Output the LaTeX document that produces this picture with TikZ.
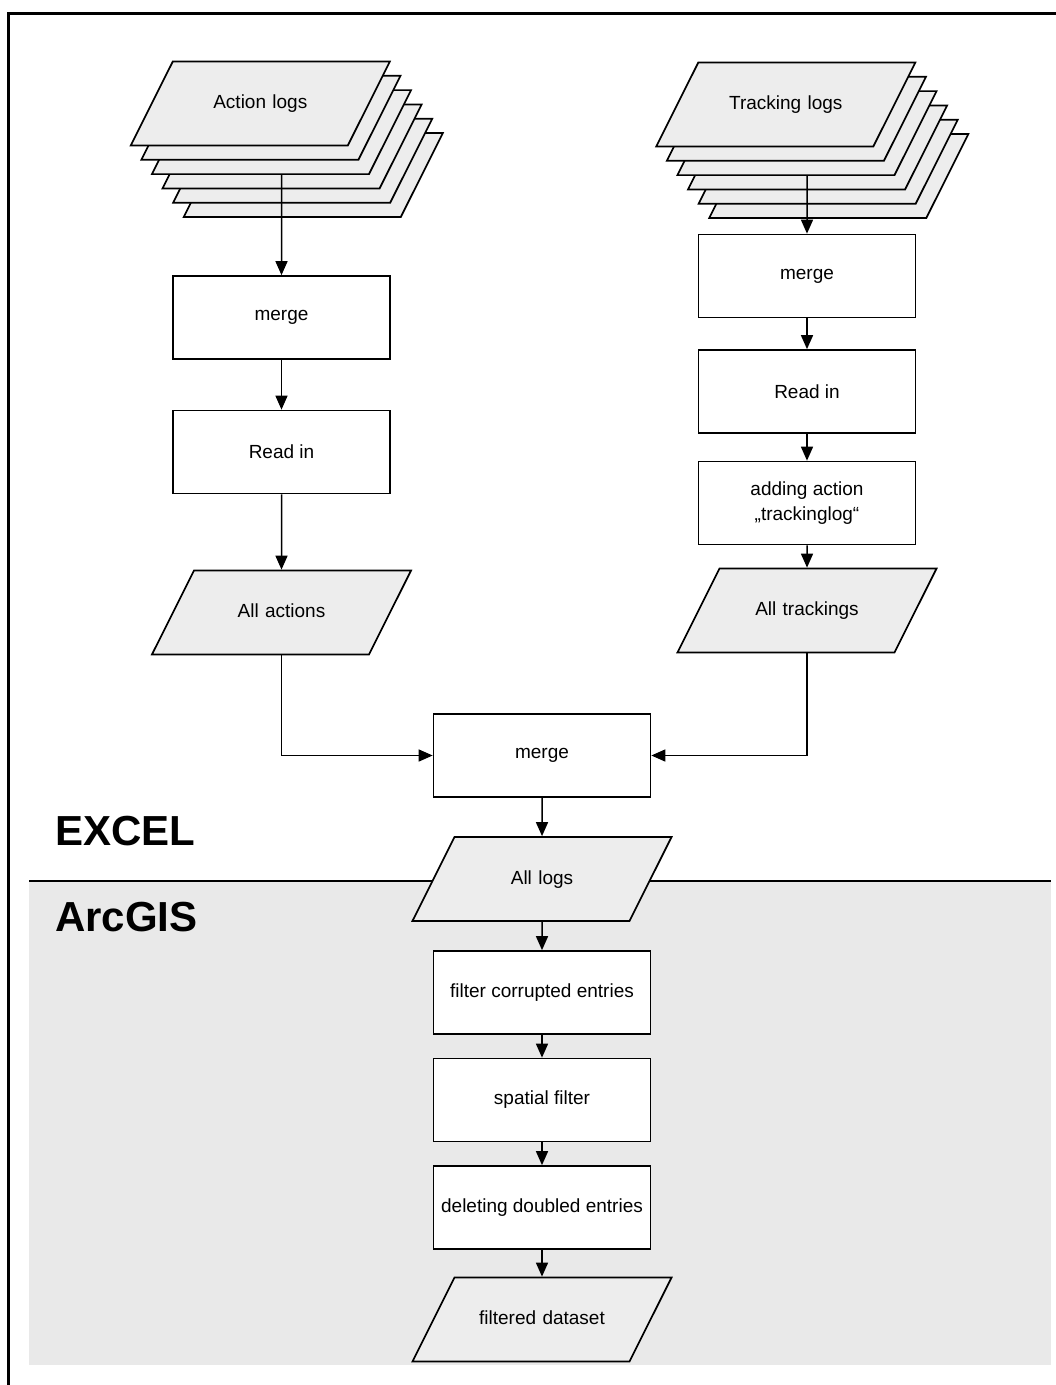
\documentclass[tikz,border=0pt]{standalone}
\usepackage{fontspec}
\setmainfont{Liberation Sans}
\usetikzlibrary{shapes.geometric,arrows.meta}

\begin{document}
\begin{tikzpicture}[
        x=1pt, y=-1pt,
        every node/.style={font=\fontsize{19}{25}\selectfont, text centered},
        stepbox/.style={draw, rectangle, fill=white, line width=1.7pt, minimum width=217pt, minimum height=83pt},
        datashape/.style={draw, trapezium, trapezium left angle=63.4, trapezium right angle=116.6,
            inner sep=0pt, text width=175pt, text height=47pt, text depth=37pt, align=center,
            fill=gray!14, line width=1.7pt},
        lane/.style={font=\fontsize{42}{48}\selectfont\bfseries, anchor=base west, inner sep=0pt},
        flow/.style={line width=1.5pt, -{Triangle[length=14pt,width=12pt]}}
    ]
    \useasboundingbox (0,0) rectangle (1056,1385);

    % ArcGIS part of the page
    \fill[gray!17] (29,881) rectangle (1051,1365);
    \draw[line width=2.5pt] (29,881) -- (1051,881);
    \draw[line width=3pt] (8.8,1385) -- (8.8,13) -- (1056,13);

    \node[lane] (excel) at (55,845) {EXCEL};
    \node[lane] (arcgis) at (55,931) {ArcGIS};

    % stacked log files, back layers first
    \foreach \i in {5,...,1} {
        \node[datashape] (actlogs\i) at (260.3+\i*10.6, 103.5+\i*14.3) {};
        \node[datashape] (trklogs\i) at (785.8+\i*10.6, 104.5+\i*14.3) {};
    }
    \node[datashape] (actlogs) at (260.3,103.5) {Action logs};
    \node[datashape] (trklogs) at (785.8,104.5) {Tracking logs};

    % left column
    \node[stepbox] (actmerge) at (281.5,317.5) {merge};
    \node[stepbox] (actread) at (281.5,452) {Read in};
    \node[datashape] (allactions) at (281.5,612.5) {All actions};

    % right column
    \node[stepbox] (trkmerge) at (807,276) {merge};
    \node[stepbox] (trkread) at (807,391.5) {Read in};
    \node[stepbox, align=center] (trkadd) at (807,503) {adding action\\„trackinglog“};
    \node[datashape] (alltrackings) at (807,610.5) {All trackings};

    % common part
    \node[stepbox] (merge) at (542,755.5) {merge};
    \node[datashape] (alllogs) at (542,879) {All logs};
    \node[stepbox] (filtercorr) at (542,992.5) {filter corrupted entries};
    \node[stepbox] (spatial) at (542,1100) {spatial filter};
    \node[stepbox] (deldoubled) at (542,1207.5) {deleting doubled entries};
    \node[datashape] (filtered) at (542,1319.5) {filtered dataset};

    \draw[flow] (actlogs2.south) -- (actmerge.north);
    \draw[flow] (actmerge) -- (actread);
    \draw[flow] (actread) -- (allactions);
    \draw[flow] (trklogs2.south) -- (trkmerge.north);
    \draw[flow] (trkmerge) -- (trkread);
    \draw[flow] (trkread) -- (trkadd);
    \draw[flow] (trkadd) -- (alltrackings);
    \draw[flow] (allactions.south) |- (merge.west);
    \draw[flow] (alltrackings.south) |- (merge.east);
    \draw[flow] (merge) -- (alllogs);
    \draw[flow] (alllogs) -- (filtercorr);
    \draw[flow] (filtercorr) -- (spatial);
    \draw[flow] (spatial) -- (deldoubled);
    \draw[flow] (deldoubled) -- (filtered);
\end{tikzpicture}
\end{document}
